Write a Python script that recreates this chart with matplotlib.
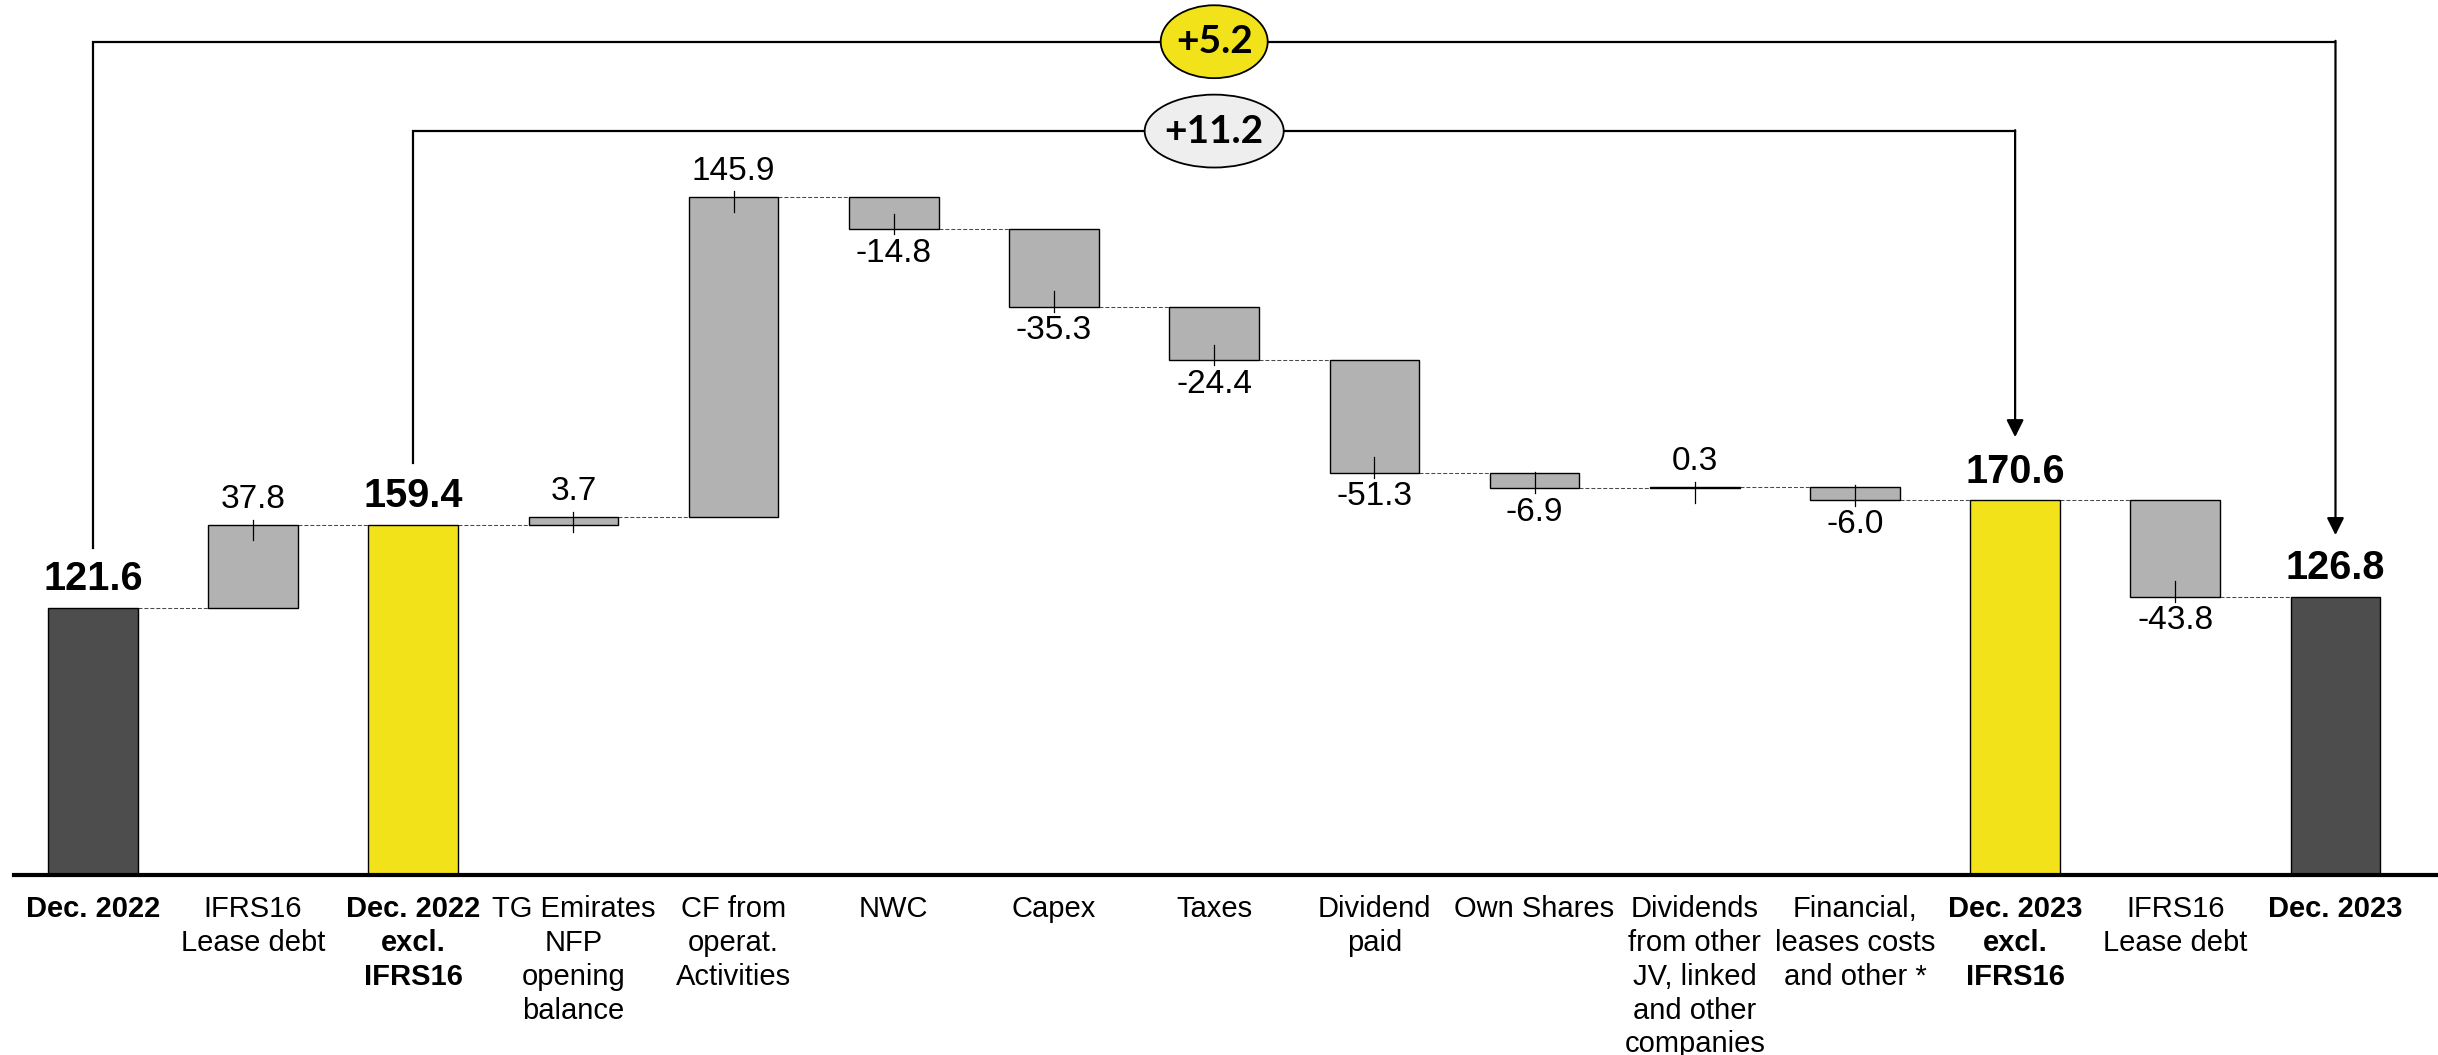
import matplotlib.pyplot as plt
from matplotlib.patches import Ellipse

plt.rcParams['font.family'] = ['Liberation Sans', 'DejaVu Sans']

categories = ["Dec. 2022", "IFRS16\nLease debt", "Dec. 2022\nexcl.\nIFRS16",
              "TG Emirates\nNFP\nopening\nbalance", "CF from\noperat.\nActivities",
              "NWC", "Capex", "Taxes", "Dividend\npaid", "Own Shares",
              "Dividends\nfrom other\nJV, linked\nand other\ncompanies",
              "Financial,\nleases costs\nand other *", "Dec. 2023\nexcl.\nIFRS16",
              "IFRS16\nLease debt", "Dec. 2023"]
values = [121.6, 37.8, 159.4, 3.7, 145.9, -14.8, -35.3, -24.4, -51.3, -6.9, 0.3, -6.0, 170.6, -43.8, 126.8]
kinds = ["total", "delta", "sub", "delta", "delta", "delta", "delta", "delta", "delta", "delta",
         "delta", "delta", "sub", "delta", "total"]
bubble_labels = ["+5.2", "+11.2"]

colors = {"total": "#4d4d4d", "sub": "#f2e21a", "delta": "#b2b2b2"}
width = 0.56

fig = plt.figure(figsize=(24.38, 10.55), dpi=100)
ax = fig.add_axes([0, 0, 1, 1])
ax.set_xlim(-0.58, 14.64)
ax.set_ylim(-82, 398.5)
ax.axis('off')

level = 0
ends = []
for i, (v, k) in enumerate(zip(values, kinds)):
    if k == "delta":
        bottom, height = level, v
        level = level + v
    else:
        bottom, height = 0, v
        level = v
    ends.append(level)
    ax.bar(i, height, bottom=bottom, width=width, color=colors[k], edgecolor='black',
           linewidth=1.0, zorder=3)
    if k == "delta":
        s = 1 if v >= 0 else -1
        ax.plot([i, i], [level - s * 7, level + s * 2.4], color='black', lw=0.9, zorder=4)
        if v >= 0:
            ax.text(i, level + 11.5, f"{v:.1f}", ha='center', va='center', fontsize=24)
        else:
            ax.text(i, level - 11, f"{v:.1f}", ha='center', va='center', fontsize=24)
    else:
        ax.text(i, level + 13, f"{v:.1f}", ha='center', va='center', fontsize=28.5,
                fontweight='bold')
    ax.text(i, -9, categories[i], ha='center', va='top', fontsize=21, linespacing=1.27,
            fontweight='bold' if k != "delta" else 'normal')

# dotted connectors
for i in range(len(values) - 1):
    ax.plot([i + width / 2, i + 1 - width / 2], [ends[i], ends[i]], color='#4a4a4a',
            lw=0.75, ls=(0, (3.8, 1.9)), zorder=2)

# baseline
ax.plot([-0.49, 14.64], [0, 0], color='black', lw=3, zorder=5)

# bracket arrows
brackets = [(0, 14, 379.5, 149, 154.8, "#f2e21a", 0.668), (2, 12, 338.8, 187.6, 199.4, "#eeeeee", 0.868)]
for (x0, x1, y, ystart, ytip, fc, ew), lab in zip(brackets, bubble_labels):
    ax.plot([x0, x0, x1], [ystart, y, y], color='black', lw=1.6, zorder=6,
            solid_joinstyle='miter')
    ax.annotate('', xy=(x1, ytip), xytext=(x1, y + 0.4),
                arrowprops=dict(arrowstyle='-|>', color='black', lw=1.6,
                                mutation_scale=26, shrinkA=0, shrinkB=0), zorder=6)
    ax.add_patch(Ellipse((7, y), ew, 33.2, facecolor=fc, edgecolor='black', lw=1.3, zorder=7))
    ax.text(7, y, lab, ha='center', va='center', fontsize=28, fontweight='bold', zorder=8,
            family=['Lato', 'Liberation Sans'])

fig.savefig('out.png', dpi=100)
